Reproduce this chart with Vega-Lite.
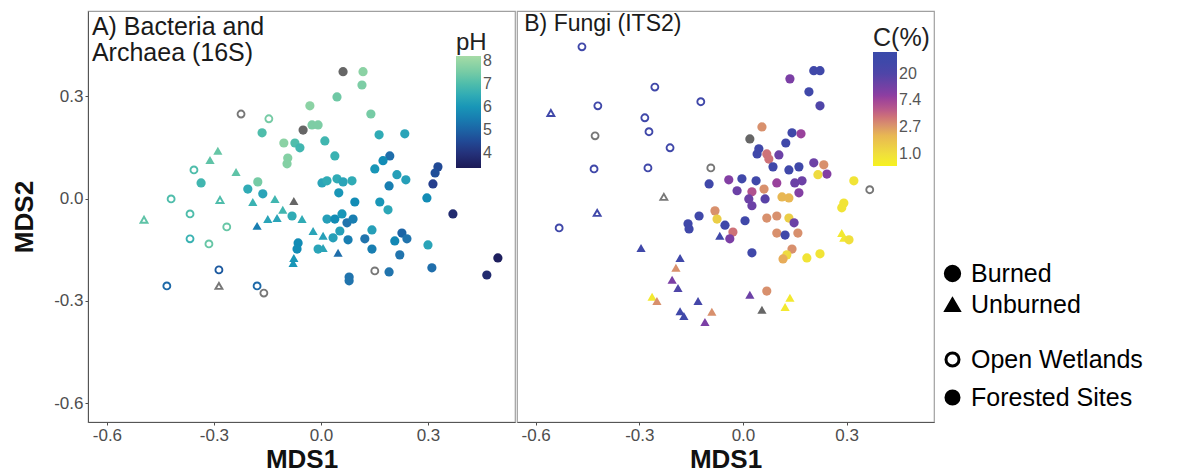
{
  "$schema": "https://vega.github.io/schema/vega-lite/v6.json",
  "autosize": "pad",
  "padding": {"left": 11, "top": 10, "right": 0, "bottom": 0},
  "spacing": 0,
  "background": "white",
  "config": {
    "font": "Liberation Sans",
    "view": {"stroke": "#a0a0a0", "strokeWidth": 1.2},
    "axis": {"grid": false, "labelFontSize": 17, "labelColor": "#4d4d4d", "tickColor": "#4d4d4d", "domainColor": "#555555", "tickSize": 3, "labelPadding": 2, "titleFontSize": 26, "titleFontWeight": "bold", "titleColor": "#111111"},
    "legend": {"padding": 0, "labelLimit": 0}
  },
  "resolve": {"scale": {"color": "independent"}, "legend": {"color": "independent"}},
  "hconcat": [
    {
      "width": 427,
      "height": 411,
      "layer": [
        {
          "data": {"values": [
            {"x": -0.224, "y": 0.248, "pH": null, "b": "Burned", "s": "Open Wetlands"},
            {"x": -0.146, "y": 0.234, "pH": 7.5, "b": "Burned", "s": "Open Wetlands"},
            {"x": -0.356, "y": 0.084, "pH": 7.0, "b": "Burned", "s": "Open Wetlands"},
            {"x": -0.420, "y": -0.001, "pH": 7.0, "b": "Burned", "s": "Open Wetlands"},
            {"x": -0.283, "y": -0.004, "pH": 7.0, "b": "Unburned", "s": "Open Wetlands"},
            {"x": -0.367, "y": -0.045, "pH": 7.0, "b": "Burned", "s": "Open Wetlands"},
            {"x": -0.496, "y": -0.062, "pH": 7.2, "b": "Unburned", "s": "Open Wetlands"},
            {"x": -0.264, "y": -0.083, "pH": 7.3, "b": "Burned", "s": "Open Wetlands"},
            {"x": -0.367, "y": -0.118, "pH": 6.7, "b": "Burned", "s": "Open Wetlands"},
            {"x": -0.314, "y": -0.133, "pH": 7.3, "b": "Burned", "s": "Open Wetlands"},
            {"x": -0.286, "y": -0.209, "pH": 4.8, "b": "Burned", "s": "Open Wetlands"},
            {"x": -0.432, "y": -0.256, "pH": 5.1, "b": "Burned", "s": "Open Wetlands"},
            {"x": -0.286, "y": -0.256, "pH": null, "b": "Unburned", "s": "Open Wetlands"},
            {"x": -0.179, "y": -0.256, "pH": 5.1, "b": "Burned", "s": "Open Wetlands"},
            {"x": -0.160, "y": -0.277, "pH": null, "b": "Burned", "s": "Open Wetlands"},
            {"x": 0.151, "y": -0.212, "pH": null, "b": "Burned", "s": "Open Wetlands"},
            {"x": -0.165, "y": 0.193, "pH": 7.0, "b": "Burned", "s": "Forested Sites"},
            {"x": -0.031, "y": 0.272, "pH": 7.8, "b": "Burned", "s": "Forested Sites"},
            {"x": -0.025, "y": 0.216, "pH": 7.6, "b": "Burned", "s": "Forested Sites"},
            {"x": -0.008, "y": 0.216, "pH": 7.6, "b": "Burned", "s": "Forested Sites"},
            {"x": -0.050, "y": 0.201, "pH": null, "b": "Burned", "s": "Forested Sites"},
            {"x": -0.104, "y": 0.163, "pH": 7.8, "b": "Burned", "s": "Forested Sites"},
            {"x": -0.073, "y": 0.163, "pH": 7.0, "b": "Burned", "s": "Forested Sites"},
            {"x": -0.059, "y": 0.149, "pH": 6.8, "b": "Burned", "s": "Forested Sites"},
            {"x": -0.093, "y": 0.119, "pH": 7.7, "b": "Burned", "s": "Forested Sites"},
            {"x": -0.095, "y": 0.102, "pH": 7.7, "b": "Burned", "s": "Forested Sites"},
            {"x": -0.289, "y": 0.140, "pH": 7.3, "b": "Unburned", "s": "Forested Sites"},
            {"x": -0.311, "y": 0.113, "pH": 7.2, "b": "Unburned", "s": "Forested Sites"},
            {"x": -0.238, "y": 0.078, "pH": 7.2, "b": "Unburned", "s": "Forested Sites"},
            {"x": -0.336, "y": 0.046, "pH": 6.8, "b": "Burned", "s": "Forested Sites"},
            {"x": -0.177, "y": 0.049, "pH": 7.5, "b": "Burned", "s": "Forested Sites"},
            {"x": -0.205, "y": 0.028, "pH": 6.5, "b": "Burned", "s": "Forested Sites"},
            {"x": -0.191, "y": -0.010, "pH": 6.7, "b": "Unburned", "s": "Forested Sites"},
            {"x": -0.163, "y": 0.014, "pH": 6.3, "b": "Burned", "s": "Forested Sites"},
            {"x": -0.129, "y": -0.001, "pH": 6.8, "b": "Unburned", "s": "Forested Sites"},
            {"x": -0.076, "y": -0.007, "pH": null, "b": "Unburned", "s": "Forested Sites"},
            {"x": -0.107, "y": -0.033, "pH": 6.8, "b": "Unburned", "s": "Forested Sites"},
            {"x": -0.149, "y": -0.060, "pH": 6.3, "b": "Unburned", "s": "Forested Sites"},
            {"x": -0.123, "y": -0.057, "pH": 6.3, "b": "Unburned", "s": "Forested Sites"},
            {"x": -0.179, "y": -0.080, "pH": 5.5, "b": "Unburned", "s": "Forested Sites"},
            {"x": -0.081, "y": -0.051, "pH": 6.5, "b": "Burned", "s": "Forested Sites"},
            {"x": -0.053, "y": -0.060, "pH": 6.5, "b": "Unburned", "s": "Forested Sites"},
            {"x": -0.022, "y": -0.095, "pH": 6.3, "b": "Unburned", "s": "Forested Sites"},
            {"x": -0.064, "y": -0.130, "pH": 5.8, "b": "Burned", "s": "Forested Sites"},
            {"x": -0.067, "y": -0.148, "pH": 5.8, "b": "Burned", "s": "Forested Sites"},
            {"x": -0.076, "y": -0.174, "pH": 6.0, "b": "Unburned", "s": "Forested Sites"},
            {"x": -0.078, "y": -0.189, "pH": 6.0, "b": "Unburned", "s": "Forested Sites"},
            {"x": -0.008, "y": -0.148, "pH": 6.3, "b": "Burned", "s": "Forested Sites"},
            {"x": 0.062, "y": 0.372, "pH": null, "b": "Burned", "s": "Forested Sites"},
            {"x": 0.118, "y": 0.372, "pH": 7.8, "b": "Burned", "s": "Forested Sites"},
            {"x": 0.115, "y": 0.333, "pH": 7.6, "b": "Burned", "s": "Forested Sites"},
            {"x": 0.045, "y": 0.298, "pH": 7.4, "b": "Burned", "s": "Forested Sites"},
            {"x": 0.140, "y": 0.248, "pH": 7.5, "b": "Burned", "s": "Forested Sites"},
            {"x": 0.011, "y": 0.169, "pH": 6.8, "b": "Burned", "s": "Forested Sites"},
            {"x": 0.163, "y": 0.187, "pH": 6.5, "b": "Burned", "s": "Forested Sites"},
            {"x": 0.235, "y": 0.190, "pH": 6.3, "b": "Burned", "s": "Forested Sites"},
            {"x": 0.039, "y": 0.125, "pH": 6.7, "b": "Burned", "s": "Forested Sites"},
            {"x": 0.193, "y": 0.125, "pH": 5.2, "b": "Burned", "s": "Forested Sites"},
            {"x": 0.174, "y": 0.111, "pH": 5.8, "b": "Burned", "s": "Forested Sites"},
            {"x": 0.151, "y": 0.087, "pH": 6.0, "b": "Burned", "s": "Forested Sites"},
            {"x": 0.328, "y": 0.093, "pH": 4.5, "b": "Burned", "s": "Forested Sites"},
            {"x": 0.320, "y": 0.075, "pH": 4.6, "b": "Burned", "s": "Forested Sites"},
            {"x": 0.314, "y": 0.043, "pH": 4.3, "b": "Burned", "s": "Forested Sites"},
            {"x": 0.003, "y": 0.046, "pH": 6.3, "b": "Burned", "s": "Forested Sites"},
            {"x": 0.017, "y": 0.052, "pH": 6.5, "b": "Burned", "s": "Forested Sites"},
            {"x": 0.045, "y": 0.058, "pH": 6.5, "b": "Burned", "s": "Forested Sites"},
            {"x": 0.062, "y": 0.049, "pH": 6.3, "b": "Burned", "s": "Forested Sites"},
            {"x": 0.087, "y": 0.052, "pH": 6.5, "b": "Burned", "s": "Forested Sites"},
            {"x": 0.213, "y": 0.070, "pH": 6.2, "b": "Burned", "s": "Forested Sites"},
            {"x": 0.238, "y": 0.055, "pH": 6.2, "b": "Burned", "s": "Forested Sites"},
            {"x": 0.191, "y": 0.037, "pH": 5.5, "b": "Burned", "s": "Forested Sites"},
            {"x": 0.050, "y": 0.017, "pH": 6.0, "b": "Burned", "s": "Forested Sites"},
            {"x": 0.095, "y": -0.010, "pH": 5.8, "b": "Burned", "s": "Forested Sites"},
            {"x": 0.165, "y": -0.010, "pH": 6.0, "b": "Burned", "s": "Forested Sites"},
            {"x": 0.188, "y": -0.033, "pH": 6.4, "b": "Burned", "s": "Forested Sites"},
            {"x": 0.297, "y": 0.002, "pH": 5.8, "b": "Burned", "s": "Forested Sites"},
            {"x": 0.370, "y": -0.045, "pH": 3.8, "b": "Burned", "s": "Forested Sites"},
            {"x": 0.017, "y": -0.060, "pH": 6.2, "b": "Burned", "s": "Forested Sites"},
            {"x": 0.039, "y": -0.060, "pH": 5.8, "b": "Burned", "s": "Forested Sites"},
            {"x": 0.059, "y": -0.045, "pH": 6.0, "b": "Burned", "s": "Forested Sites"},
            {"x": 0.073, "y": -0.071, "pH": 5.3, "b": "Burned", "s": "Forested Sites"},
            {"x": 0.090, "y": -0.060, "pH": 5.5, "b": "Burned", "s": "Forested Sites"},
            {"x": 0.143, "y": -0.092, "pH": 6.2, "b": "Burned", "s": "Forested Sites"},
            {"x": 0.123, "y": -0.118, "pH": 5.3, "b": "Burned", "s": "Forested Sites"},
            {"x": 0.227, "y": -0.101, "pH": 5.0, "b": "Burned", "s": "Forested Sites"},
            {"x": 0.241, "y": -0.118, "pH": 5.3, "b": "Burned", "s": "Forested Sites"},
            {"x": 0.207, "y": -0.124, "pH": 5.7, "b": "Burned", "s": "Forested Sites"},
            {"x": 0.034, "y": -0.115, "pH": 6.2, "b": "Burned", "s": "Forested Sites"},
            {"x": 0.006, "y": -0.109, "pH": 6.2, "b": "Unburned", "s": "Forested Sites"},
            {"x": 0.053, "y": -0.095, "pH": 6.2, "b": "Burned", "s": "Forested Sites"},
            {"x": 0.076, "y": -0.121, "pH": 5.5, "b": "Burned", "s": "Forested Sites"},
            {"x": 0.048, "y": -0.159, "pH": 5.2, "b": "Unburned", "s": "Forested Sites"},
            {"x": 0.006, "y": -0.145, "pH": 6.3, "b": "Unburned", "s": "Forested Sites"},
            {"x": 0.143, "y": -0.148, "pH": 5.5, "b": "Burned", "s": "Forested Sites"},
            {"x": 0.221, "y": -0.165, "pH": 5.3, "b": "Burned", "s": "Forested Sites"},
            {"x": 0.300, "y": -0.136, "pH": 6.3, "b": "Burned", "s": "Forested Sites"},
            {"x": 0.496, "y": -0.174, "pH": 3.5, "b": "Burned", "s": "Forested Sites"},
            {"x": 0.191, "y": -0.215, "pH": 5.3, "b": "Burned", "s": "Forested Sites"},
            {"x": 0.311, "y": -0.203, "pH": 5.2, "b": "Burned", "s": "Forested Sites"},
            {"x": 0.079, "y": -0.230, "pH": 5.3, "b": "Burned", "s": "Forested Sites"},
            {"x": 0.079, "y": -0.241, "pH": 5.3, "b": "Burned", "s": "Forested Sites"},
            {"x": 0.465, "y": -0.224, "pH": 3.8, "b": "Burned", "s": "Forested Sites"}
          ]},
          "encoding": {
            "x": {"field": "x", "type": "quantitative", "scale": {"domain": [-0.653, 0.544], "nice": false, "zero": false}, "axis": {"values": [-0.6, -0.3, 0, 0.3], "title": "MDS1", "titlePadding": 3, "labelExpr": "datum.value < 0 ? '-' + format(-datum.value, '.1f') : format(datum.value, '.1f')"}},
            "y": {"field": "y", "type": "quantitative", "scale": {"domain": [-0.655, 0.55], "nice": false, "zero": false}, "axis": {"values": [-0.6, -0.3, 0, 0.3], "title": "MDS2", "titlePadding": 16, "labelExpr": "datum.value < 0 ? '-' + format(-datum.value, '.1f') : format(datum.value, '.1f')"}},
            "shape": {"field": "b", "type": "nominal", "scale": {"domain": ["Burned", "Unburned"], "range": ["circle", "triangle-up"]}, "legend": {"orient": "none", "legendX": 852, "legendY": 250, "title": null, "labelFontSize": 25, "labelColor": "black", "labelOffset": 6, "symbolSize": 250, "symbolFillColor": "black", "symbolStrokeColor": "black", "rowPadding": 5}}
          },
          "resolve": {"scale": {"color": "independent"}},
          "layer": [
            {
              "transform": [{"filter": "isValid(datum.pH) && datum.s == 'Forested Sites'"}],
              "mark": {"type": "point", "filled": true, "size": 85, "opacity": 1},
              "encoding": {
                "color": {"field": "pH", "type": "quantitative", "scale": {"domain": [3.35, 8.2], "range": ["#1c1a56", "#253f8e", "#2273ad", "#2aa2b8", "#62c4a6", "#a6dba6"]}, "legend": {"type": "gradient", "orient": "none", "legendX": 368, "legendY": 20, "title": "pH", "direction": "vertical", "gradientLength": 112, "gradientThickness": 25, "gradientStrokeWidth": 0, "titleFontSize": 24, "titleFontWeight": "normal", "titleColor": "#222222", "titlePadding": 1, "labelFontSize": 16, "labelColor": "#555555", "labelOffset": 2, "values": [4, 5, 6, 7, 8]}}
              }
            },
            {
              "transform": [{"filter": "isValid(datum.pH) && datum.s == 'Open Wetlands'"}],
              "mark": {"type": "point", "filled": false, "size": 48, "strokeWidth": 1.9, "opacity": 1},
              "encoding": {
                "color": {"field": "pH", "type": "quantitative", "scale": {"domain": [3.35, 8.2], "range": ["#1c1a56", "#253f8e", "#2273ad", "#2aa2b8", "#62c4a6", "#a6dba6"]}, "legend": null},
                "fill": {"field": "s", "type": "nominal", "scale": {"domain": ["Open Wetlands", "Forested Sites"], "range": ["white", "black"]}, "legend": {"orient": "none", "legendX": 852, "legendY": 336, "title": null, "labelFontSize": 25, "labelColor": "black", "labelOffset": 6, "symbolSize": 170, "symbolType": "circle", "symbolStrokeWidth": 3, "symbolStrokeColor": "black", "rowPadding": 11}}
              }
            },
            {
              "transform": [{"filter": "!isValid(datum.pH) && datum.s == 'Forested Sites'"}],
              "mark": {"type": "point", "filled": true, "size": 85, "color": "#666666", "opacity": 1}
            },
            {
              "transform": [{"filter": "!isValid(datum.pH) && datum.s == 'Open Wetlands'"}],
              "mark": {"type": "point", "filled": false, "size": 48, "strokeWidth": 1.9, "color": "#777777", "opacity": 1},
              "encoding": {
                "fill": {"field": "s", "type": "nominal"}
              }
            }
          ]
        },
        {
          "data": {"values": [{"label": "A) Bacteria and\nArchaea (16S)"}]},
          "mark": {"type": "text", "align": "left", "baseline": "top", "fontSize": 25, "lineBreak": "\n", "lineHeight": 26, "color": "#1a1a1a"},
          "encoding": {
            "x": {"datum": -0.642, "type": "quantitative"},
            "y": {"datum": 0.537, "type": "quantitative"},
            "text": {"field": "label"}
          }
        }
      ]
    },
    {
      "width": 417,
      "height": 411,
      "layer": [
        {
          "data": {"values": [
            {"x": -0.466, "y": 0.445, "C": 30, "b": "Burned", "s": "Open Wetlands"},
            {"x": -0.255, "y": 0.327, "C": 30, "b": "Burned", "s": "Open Wetlands"},
            {"x": -0.556, "y": 0.251, "C": 30, "b": "Unburned", "s": "Open Wetlands"},
            {"x": -0.420, "y": 0.272, "C": 30, "b": "Burned", "s": "Open Wetlands"},
            {"x": -0.122, "y": 0.284, "C": 30, "b": "Burned", "s": "Open Wetlands"},
            {"x": -0.284, "y": 0.237, "C": 30, "b": "Burned", "s": "Open Wetlands"},
            {"x": -0.272, "y": 0.196, "C": 30, "b": "Burned", "s": "Open Wetlands"},
            {"x": -0.428, "y": 0.184, "C": null, "b": "Burned", "s": "Open Wetlands"},
            {"x": -0.211, "y": 0.149, "C": 30, "b": "Burned", "s": "Open Wetlands"},
            {"x": -0.431, "y": 0.087, "C": 30, "b": "Burned", "s": "Open Wetlands"},
            {"x": -0.275, "y": 0.090, "C": 30, "b": "Burned", "s": "Open Wetlands"},
            {"x": -0.229, "y": 0.005, "C": null, "b": "Unburned", "s": "Open Wetlands"},
            {"x": -0.422, "y": -0.042, "C": 30, "b": "Unburned", "s": "Open Wetlands"},
            {"x": -0.532, "y": -0.086, "C": 30, "b": "Burned", "s": "Open Wetlands"},
            {"x": -0.093, "y": 0.090, "C": null, "b": "Burned", "s": "Open Wetlands"},
            {"x": 0.367, "y": 0.026, "C": null, "b": "Burned", "s": "Open Wetlands"},
            {"x": -0.127, "y": -0.051, "C": 30, "b": "Burned", "s": "Forested Sites"},
            {"x": -0.159, "y": -0.074, "C": 30, "b": "Burned", "s": "Forested Sites"},
            {"x": -0.156, "y": -0.089, "C": 30, "b": "Burned", "s": "Forested Sites"},
            {"x": -0.295, "y": -0.145, "C": 30, "b": "Unburned", "s": "Forested Sites"},
            {"x": -0.182, "y": -0.174, "C": 30, "b": "Unburned", "s": "Forested Sites"},
            {"x": -0.194, "y": -0.203, "C": 3, "b": "Unburned", "s": "Forested Sites"},
            {"x": -0.205, "y": -0.238, "C": 11, "b": "Unburned", "s": "Forested Sites"},
            {"x": -0.188, "y": -0.262, "C": 20, "b": "Unburned", "s": "Forested Sites"},
            {"x": -0.263, "y": -0.288, "C": 0.8, "b": "Unburned", "s": "Forested Sites"},
            {"x": -0.249, "y": -0.300, "C": 3, "b": "Unburned", "s": "Forested Sites"},
            {"x": -0.130, "y": -0.300, "C": 25, "b": "Unburned", "s": "Forested Sites"},
            {"x": -0.182, "y": -0.330, "C": 30, "b": "Unburned", "s": "Forested Sites"},
            {"x": -0.171, "y": -0.344, "C": 30, "b": "Unburned", "s": "Forested Sites"},
            {"x": -0.110, "y": -0.362, "C": 11, "b": "Unburned", "s": "Forested Sites"},
            {"x": -0.090, "y": -0.332, "C": 3, "b": "Unburned", "s": "Forested Sites"},
            {"x": 0.020, "y": -0.282, "C": 13, "b": "Unburned", "s": "Forested Sites"},
            {"x": 0.055, "y": -0.326, "C": null, "b": "Unburned", "s": "Forested Sites"},
            {"x": 0.069, "y": -0.271, "C": 3, "b": "Burned", "s": "Forested Sites"},
            {"x": 0.136, "y": -0.291, "C": 0.8, "b": "Unburned", "s": "Forested Sites"},
            {"x": 0.122, "y": -0.318, "C": 0.8, "b": "Unburned", "s": "Forested Sites"},
            {"x": -0.052, "y": -0.078, "C": 30, "b": "Burned", "s": "Forested Sites"},
            {"x": -0.067, "y": -0.109, "C": 30, "b": "Unburned", "s": "Forested Sites"},
            {"x": -0.029, "y": -0.098, "C": 4, "b": "Burned", "s": "Forested Sites"},
            {"x": -0.038, "y": -0.118, "C": 11, "b": "Burned", "s": "Forested Sites"},
            {"x": 0.026, "y": -0.159, "C": 30, "b": "Burned", "s": "Forested Sites"},
            {"x": 0.098, "y": -0.101, "C": 3, "b": "Burned", "s": "Forested Sites"},
            {"x": 0.122, "y": -0.107, "C": 30, "b": "Burned", "s": "Forested Sites"},
            {"x": 0.159, "y": -0.101, "C": 3, "b": "Burned", "s": "Forested Sites"},
            {"x": 0.142, "y": -0.148, "C": 3, "b": "Burned", "s": "Forested Sites"},
            {"x": 0.127, "y": -0.165, "C": 1.1, "b": "Burned", "s": "Forested Sites"},
            {"x": 0.116, "y": -0.177, "C": 2.2, "b": "Burned", "s": "Forested Sites"},
            {"x": 0.185, "y": -0.174, "C": 0.9, "b": "Burned", "s": "Forested Sites"},
            {"x": 0.223, "y": -0.162, "C": 0.9, "b": "Burned", "s": "Forested Sites"},
            {"x": 0.286, "y": -0.101, "C": 0.8, "b": "Unburned", "s": "Forested Sites"},
            {"x": 0.292, "y": -0.115, "C": 0.8, "b": "Unburned", "s": "Forested Sites"},
            {"x": 0.307, "y": -0.121, "C": 1.0, "b": "Burned", "s": "Forested Sites"},
            {"x": 0.205, "y": 0.375, "C": 30, "b": "Burned", "s": "Forested Sites"},
            {"x": 0.223, "y": 0.375, "C": 30, "b": "Burned", "s": "Forested Sites"},
            {"x": 0.136, "y": 0.351, "C": 11, "b": "Burned", "s": "Forested Sites"},
            {"x": 0.191, "y": 0.313, "C": 30, "b": "Burned", "s": "Forested Sites"},
            {"x": 0.223, "y": 0.272, "C": 20, "b": "Burned", "s": "Forested Sites"},
            {"x": 0.055, "y": 0.210, "C": 3, "b": "Burned", "s": "Forested Sites"},
            {"x": 0.020, "y": 0.175, "C": null, "b": "Burned", "s": "Forested Sites"},
            {"x": 0.142, "y": 0.193, "C": 30, "b": "Burned", "s": "Forested Sites"},
            {"x": 0.168, "y": 0.190, "C": 8, "b": "Burned", "s": "Forested Sites"},
            {"x": 0.124, "y": 0.163, "C": 30, "b": "Burned", "s": "Forested Sites"},
            {"x": 0.046, "y": 0.146, "C": 30, "b": "Burned", "s": "Forested Sites"},
            {"x": 0.041, "y": 0.131, "C": 30, "b": "Burned", "s": "Forested Sites"},
            {"x": 0.069, "y": 0.131, "C": 4, "b": "Burned", "s": "Forested Sites"},
            {"x": 0.075, "y": 0.116, "C": 4, "b": "Burned", "s": "Forested Sites"},
            {"x": 0.104, "y": 0.128, "C": 13, "b": "Burned", "s": "Forested Sites"},
            {"x": 0.087, "y": 0.093, "C": 30, "b": "Burned", "s": "Forested Sites"},
            {"x": 0.133, "y": 0.084, "C": 30, "b": "Burned", "s": "Forested Sites"},
            {"x": 0.162, "y": 0.093, "C": 30, "b": "Burned", "s": "Forested Sites"},
            {"x": 0.205, "y": 0.105, "C": 13, "b": "Burned", "s": "Forested Sites"},
            {"x": 0.234, "y": 0.099, "C": 3, "b": "Burned", "s": "Forested Sites"},
            {"x": 0.243, "y": 0.072, "C": 10, "b": "Burned", "s": "Forested Sites"},
            {"x": 0.217, "y": 0.070, "C": 1.1, "b": "Burned", "s": "Forested Sites"},
            {"x": -0.003, "y": 0.058, "C": 30, "b": "Burned", "s": "Forested Sites"},
            {"x": 0.038, "y": 0.052, "C": 30, "b": "Burned", "s": "Forested Sites"},
            {"x": -0.041, "y": 0.055, "C": 10, "b": "Burned", "s": "Forested Sites"},
            {"x": 0.098, "y": 0.046, "C": 8, "b": "Burned", "s": "Forested Sites"},
            {"x": 0.150, "y": 0.046, "C": 13, "b": "Burned", "s": "Forested Sites"},
            {"x": 0.171, "y": 0.052, "C": 13, "b": "Burned", "s": "Forested Sites"},
            {"x": -0.098, "y": 0.043, "C": 30, "b": "Burned", "s": "Forested Sites"},
            {"x": -0.017, "y": 0.023, "C": 13, "b": "Burned", "s": "Forested Sites"},
            {"x": 0.026, "y": 0.020, "C": 6, "b": "Burned", "s": "Forested Sites"},
            {"x": 0.061, "y": 0.028, "C": 3, "b": "Burned", "s": "Forested Sites"},
            {"x": 0.017, "y": -0.001, "C": 13, "b": "Burned", "s": "Forested Sites"},
            {"x": 0.064, "y": -0.001, "C": 16, "b": "Burned", "s": "Forested Sites"},
            {"x": 0.026, "y": -0.021, "C": 13, "b": "Burned", "s": "Forested Sites"},
            {"x": 0.113, "y": 0.005, "C": 2, "b": "Burned", "s": "Forested Sites"},
            {"x": 0.133, "y": 0.002, "C": 2, "b": "Burned", "s": "Forested Sites"},
            {"x": 0.162, "y": 0.017, "C": 10, "b": "Burned", "s": "Forested Sites"},
            {"x": 0.321, "y": 0.052, "C": 0.9, "b": "Burned", "s": "Forested Sites"},
            {"x": 0.292, "y": -0.013, "C": 0.9, "b": "Burned", "s": "Forested Sites"},
            {"x": 0.286, "y": -0.027, "C": 0.9, "b": "Burned", "s": "Forested Sites"},
            {"x": -0.081, "y": -0.036, "C": 3, "b": "Burned", "s": "Forested Sites"},
            {"x": -0.075, "y": -0.060, "C": 1.4, "b": "Burned", "s": "Forested Sites"},
            {"x": 0.069, "y": -0.057, "C": 3, "b": "Burned", "s": "Forested Sites"},
            {"x": 0.098, "y": -0.051, "C": 3, "b": "Burned", "s": "Forested Sites"},
            {"x": 0.006, "y": -0.065, "C": 30, "b": "Burned", "s": "Forested Sites"},
            {"x": 0.133, "y": -0.057, "C": 1.4, "b": "Burned", "s": "Forested Sites"},
            {"x": 0.148, "y": -0.071, "C": 13, "b": "Burned", "s": "Forested Sites"}
          ]},
          "encoding": {
            "x": {"field": "x", "type": "quantitative", "scale": {"domain": [-0.654, 0.553], "nice": false, "zero": false}, "axis": {"values": [-0.6, -0.3, 0, 0.3], "title": "MDS1", "titlePadding": 3, "labelExpr": "datum.value < 0 ? '-' + format(-datum.value, '.1f') : format(datum.value, '.1f')"}},
            "y": {"field": "y", "type": "quantitative", "scale": {"domain": [-0.655, 0.55], "nice": false, "zero": false}, "axis": {"title": null, "labels": false, "ticks": false, "domain": false}},
            "shape": {"field": "b", "type": "nominal"}
          },
          "resolve": {"scale": {"color": "independent"}},
          "layer": [
            {
              "transform": [{"filter": "isValid(datum.C) && datum.s == 'Forested Sites'"}],
              "mark": {"type": "point", "filled": true, "size": 85, "opacity": 1},
              "encoding": {
                "color": {"field": "C", "type": "quantitative", "scale": {"type": "log", "domain": [0.64, 45], "range": ["#f6f21e", "#eedc40", "#e6c04e", "#d48c70", "#b65a8c", "#8a3ea2", "#5a42a7", "#4247a9", "#3a4aaa"]}, "legend": {"type": "gradient", "orient": "none", "legendX": 356, "legendY": 15, "title": "C(%)", "direction": "vertical", "gradientLength": 114, "gradientThickness": 24, "gradientStrokeWidth": 0, "titleFontSize": 25, "titleFontWeight": "normal", "titleColor": "#222222", "titlePadding": 1, "labelFontSize": 16, "labelColor": "#555555", "labelOffset": 2, "values": [1, 2.718, 7.389, 20.09], "labelExpr": "datum.value > 10 ? format(datum.value, '.0f') : format(datum.value, '.1f')"}}
              }
            },
            {
              "transform": [{"filter": "isValid(datum.C) && datum.s == 'Open Wetlands'"}],
              "mark": {"type": "point", "filled": false, "size": 48, "strokeWidth": 1.9, "opacity": 1},
              "encoding": {
                "color": {"field": "C", "type": "quantitative", "scale": {"type": "log", "domain": [0.64, 45], "range": ["#f6f21e", "#eedc40", "#e6c04e", "#d48c70", "#b65a8c", "#8a3ea2", "#5a42a7", "#4247a9", "#3a4aaa"]}, "legend": null},
                "fill": {"field": "s", "type": "nominal"}
              }
            },
            {
              "transform": [{"filter": "!isValid(datum.C) && datum.s == 'Forested Sites'"}],
              "mark": {"type": "point", "filled": true, "size": 85, "color": "#666666", "opacity": 1}
            },
            {
              "transform": [{"filter": "!isValid(datum.C) && datum.s == 'Open Wetlands'"}],
              "mark": {"type": "point", "filled": false, "size": 48, "strokeWidth": 1.9, "color": "#777777", "opacity": 1},
              "encoding": {
                "fill": {"field": "s", "type": "nominal"}
              }
            }
          ]
        },
        {
          "data": {"values": [{"label": "B) Fungi (ITS2)"}]},
          "mark": {"type": "text", "align": "left", "baseline": "top", "fontSize": 23, "color": "#1a1a1a"},
          "encoding": {
            "x": {"datum": -0.633, "type": "quantitative"},
            "y": {"datum": 0.543, "type": "quantitative"},
            "text": {"field": "label"}
          }
        }
      ]
    }
  ]
}
